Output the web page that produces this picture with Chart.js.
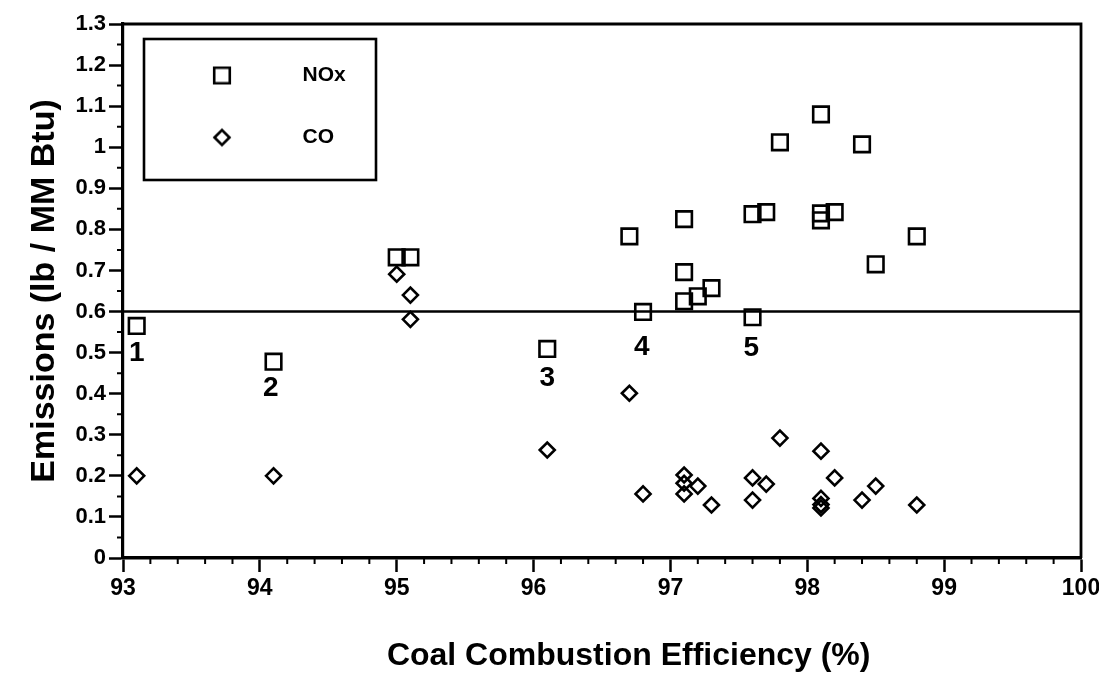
<!DOCTYPE html>
<html><head><meta charset="utf-8">
<script src="https://cdn.jsdelivr.net/npm/chart.js@4"></script>
<style>html,body{margin:0;padding:0;background:#fff;} #wrap{width:1099px;height:679px;}</style>
</head><body><div id="wrap"><canvas id="c" width="1099" height="679"></canvas></div>
<script>
const FONT = "'Liberation Sans', Arial, Helvetica, sans-serif";

// ---- data ----
const seriesNames = ['NOx', 'CO'];
const noxEfficiency = [93.1, 94.1, 95.0, 95.1, 96.1, 96.7, 96.8, 97.1, 97.1, 97.1, 97.2, 97.3, 97.6, 97.6, 97.7, 97.8, 98.1, 98.1, 98.1, 98.2, 98.4, 98.5, 98.8];
const noxEmission   = [0.565, 0.478, 0.732, 0.732, 0.509, 0.783, 0.599, 0.825, 0.696, 0.625, 0.637, 0.657, 0.586, 0.837, 0.842, 1.012, 1.080, 0.839, 0.822, 0.842, 1.007, 0.715, 0.783];
const coEfficiency  = [93.1, 94.1, 95.0, 95.1, 95.1, 96.1, 96.7, 96.8, 97.1, 97.1, 97.1, 97.2, 97.3, 97.6, 97.6, 97.7, 97.8, 98.1, 98.1, 98.1, 98.1, 98.2, 98.4, 98.5, 98.8];
const coEmission    = [0.200, 0.200, 0.691, 0.640, 0.581, 0.263, 0.401, 0.156, 0.202, 0.182, 0.156, 0.175, 0.129, 0.195, 0.141, 0.180, 0.292, 0.260, 0.145, 0.130, 0.122, 0.195, 0.141, 0.175, 0.129];
const limitEfficiency = [93, 100];
const limitEmission   = [0.6, 0.6];
const caseNames      = ['1', '2', '3', '4', '5'];
const caseEfficiency = [93.1, 94.08, 96.1, 96.79, 97.59];
const caseEmission   = [0.499, 0.414, 0.438, 0.512, 0.511];
const xTitle = 'Coal Combustion Efficiency (%)';
const yTitle = 'Emissions (lb / MM Btu)';
const xRange = [93, 100];
const yRange = [0, 1.3];

const toPoints = (xs, ys) => xs.map((x, i) => ({x: x, y: ys[i]}));

// legend marker images (marker drawn 6px left of the image centre)
function markerCanvas(kind, r) {
  const c = document.createElement('canvas');
  c.width = 40; c.height = 30;
  const g = c.getContext('2d');
  g.strokeStyle = '#000'; g.lineWidth = 2.6;
  const mx = 20 - 6, my = 15;
  g.beginPath();
  if (kind === 'rect') {
    const h = r * Math.SQRT1_2;
    g.rect(mx - h, my - h, 2 * h, 2 * h);
  } else {
    g.moveTo(mx - r, my); g.lineTo(mx, my - r); g.lineTo(mx + r, my); g.lineTo(mx, my + r); g.closePath();
  }
  g.stroke();
  return c;
}
const legendMarkers = [markerCanvas('rect', 11), markerCanvas('diamond', 7.5)];

const legendShift = {
  id: 'legendShift',
  afterLayout(chart) {
    const l = chart.legend;
    if (!l) return;
    const dy = chart.chartArea.top - l.top;
    l.top += dy; l.bottom += dy;
  }
};

const minorTicks = {
  id: 'minorTicks',
  afterDraw(chart) {
    const {ctx, chartArea: a, scales: {x, y}} = chart;
    ctx.save();
    ctx.strokeStyle = '#000'; ctx.lineWidth = 2;
    ctx.beginPath();
    for (let k = 0; k < 13; k++) {
      const py = y.getPixelForValue(0.05 + 0.1 * k);
      ctx.moveTo(a.left - 6, py); ctx.lineTo(a.left, py);
    }
    for (let i = 1; i < 35; i++) {
      if (i % 5 === 0) continue;
      const px = x.getPixelForValue(93 + 0.2 * i);
      ctx.moveTo(px, a.bottom); ctx.lineTo(px, a.bottom + 6);
    }
    ctx.stroke();
    ctx.restore();
  }
};

const frame = {
  id: 'frame',
  afterDraw(chart) {
    const {ctx, chartArea: a} = chart;
    ctx.save();
    ctx.strokeStyle = '#000'; ctx.lineWidth = 2.8;
    ctx.beginPath();
    ctx.moveTo(a.left, a.top); ctx.lineTo(a.right, a.top); ctx.lineTo(a.right, a.bottom);
    ctx.stroke();
    ctx.restore();
  }
};

const legendBox = {
  id: 'legendBox',
  afterDraw(chart) {
    const {ctx, chartArea: a} = chart;
    ctx.save();
    ctx.strokeStyle = '#000'; ctx.lineWidth = 2.6;
    ctx.strokeRect(a.left + 21, a.top + 15, 232, 141);
    ctx.restore();
  }
};

const caseLabels = {
  id: 'caseLabels',
  afterDatasetsDraw(chart) {
    const {ctx, scales: {x, y}} = chart;
    ctx.save();
    ctx.fillStyle = '#000';
    ctx.font = 'bold 28px ' + FONT;
    ctx.textAlign = 'center'; ctx.textBaseline = 'middle';
    caseNames.forEach((t, i) => {
      ctx.fillText(t, x.getPixelForValue(caseEfficiency[i]), y.getPixelForValue(caseEmission[i]));
    });
    ctx.restore();
  }
};

new Chart(document.getElementById('c'), {
  type: 'scatter',
  data: {
    datasets: [
      { label: seriesNames[0], data: toPoints(noxEfficiency, noxEmission), pointStyle: 'rect', pointRadius: 11, pointHoverRadius: 11,
        borderColor: '#000', backgroundColor: 'rgba(0,0,0,0)', pointBorderWidth: 2.6, pointBorderColor: '#000', pointBackgroundColor: 'rgba(0,0,0,0)' },
      { label: seriesNames[1], data: toPoints(coEfficiency, coEmission), pointStyle: 'rectRot', pointRadius: 7.5, pointHoverRadius: 7.5,
        borderColor: '#000', backgroundColor: 'rgba(0,0,0,0)', pointBorderWidth: 2.6, pointBorderColor: '#000', pointBackgroundColor: 'rgba(0,0,0,0)' },
      { type: 'line', label: 'limit', data: toPoints(limitEfficiency, limitEmission), borderColor: '#000', borderWidth: 2.6,
        pointRadius: 0, showLine: true, fill: false }
    ]
  },
  options: {
    responsive: false, animation: false, devicePixelRatio: 1,
    layout: { padding: { top: 24, right: 18, left: 0, bottom: 0 } },
    scales: {
      x: {
        type: 'linear', position: 'bottom', min: xRange[0], max: xRange[1],
        ticks: { stepSize: 1, color: '#000', font: { family: FONT, size: 23, weight: 'bold' }, padding: 3, maxRotation: 0, autoSkip: false },
        grid: { drawOnChartArea: false, drawTicks: true, tickLength: 14, tickColor: '#000', tickWidth: 2.5 },
        border: { display: true, color: '#000', width: 3.5 },
        title: { display: true, text: '      ' + xTitle, color: '#000', font: { family: FONT, size: 32, weight: 'bold' }, padding: { top: 0, bottom: 4 } },
        afterFit(s) { s.height = 121; s.paddingLeft = 0; s.paddingRight = 0; }
      },
      y: {
        type: 'linear', min: yRange[0], max: yRange[1],
        ticks: { stepSize: 0.1, color: '#000', font: { family: FONT, size: 22, weight: 'bold' }, padding: 3,
                 callback: v => String(Number(Number(v).toFixed(2))) },
        grid: { drawOnChartArea: false, drawTicks: true, tickLength: 14, tickColor: '#000', tickWidth: 2.5 },
        border: { display: true, color: '#000', width: 3.2 },
        title: { display: true, text: yTitle, color: '#000', font: { family: FONT, size: 34, weight: 'bold' }, padding: { top: 24, bottom: 0 } },
        afterFit(s) { s.width = 123; s.paddingTop = 0; s.paddingBottom = 0; }
      }
    },
    plugins: {
      tooltip: { enabled: false },
      legend: {
        display: true, position: 'chartArea', align: 'start',
        labels: {
          usePointStyle: true, pointStyleWidth: 128, padding: 41,
          color: '#000', font: { family: FONT, size: 21, weight: 'bold' },
          generateLabels() {
            return seriesNames.map((name, i) => ({
              text: name, datasetIndex: i, pointStyle: legendMarkers[i], hidden: false,
              fillStyle: 'rgba(0,0,0,0)', strokeStyle: '#000', lineWidth: 2.6, fontColor: '#000'
            }));
          }
        }
      }
    }
  },
  plugins: [legendShift, minorTicks, frame, legendBox, caseLabels]
});
</script>
</body></html>
